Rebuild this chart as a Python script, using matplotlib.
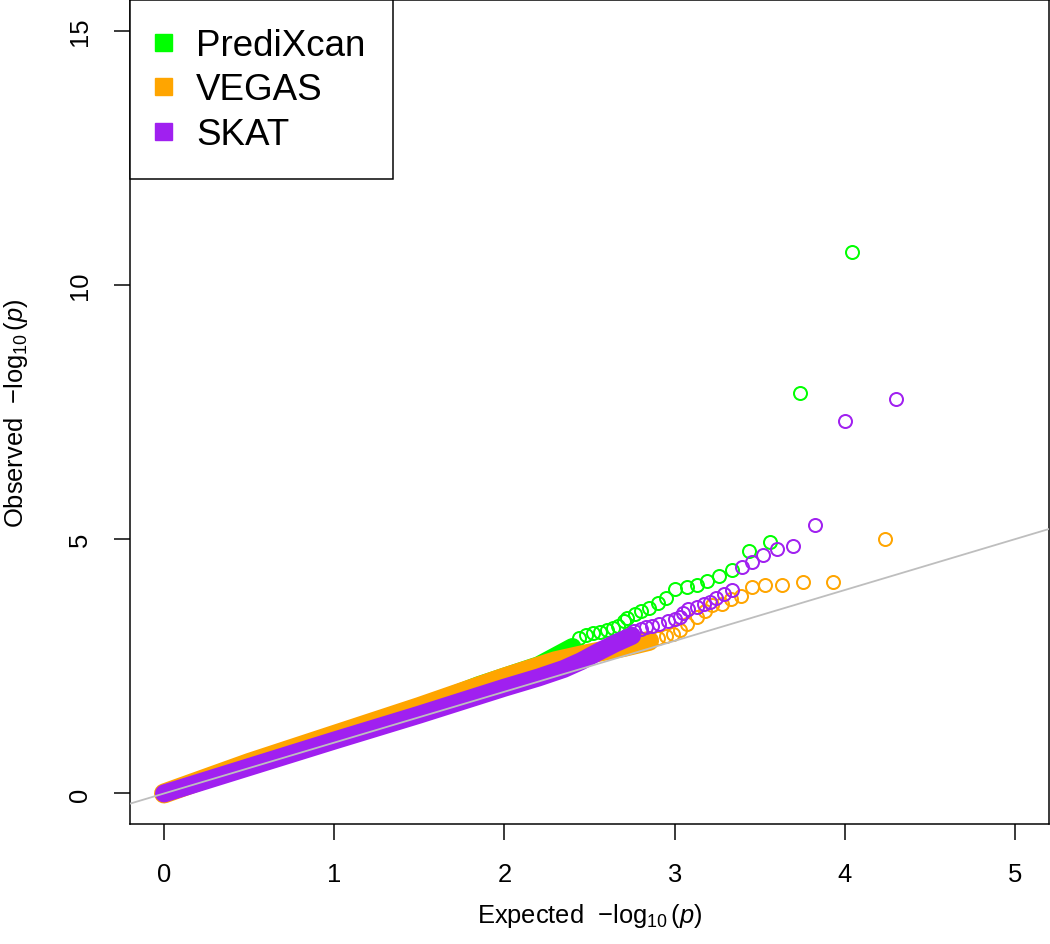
import matplotlib
matplotlib.use("Agg")
import matplotlib.pyplot as plt
from matplotlib.lines import Line2D

plt.rcParams['font.family'] = ['Liberation Sans', 'DejaVu Sans']
plt.rcParams['mathtext.fontset'] = 'custom'
plt.rcParams['mathtext.rm'] = 'Liberation Sans'
plt.rcParams['mathtext.it'] = 'Liberation Sans:italic'

# series names / colours (R: green, orange, purple)
names = ['PrediXcan', 'VEGAS', 'SKAT']
colors = ['#00FF00', '#FFA500', '#A020F0']

# dense part of each QQ curve
pred_body_exp = [0.0, 0.5, 1.0, 1.5, 1.85, 2.2, 2.4]
pred_body_obs = [0.0, 0.56, 1.12, 1.68, 2.13, 2.52, 2.88]
veg_body_exp = [0.0, 0.5, 1.0, 1.5, 2.0, 2.3, 2.5, 2.7, 2.85]
veg_body_obs = [0.0, 0.6, 1.15, 1.7, 2.28, 2.6, 2.75, 2.88, 3.0]
skat_body_exp = [0.0, 0.5, 1.0, 1.5, 2.0, 2.2, 2.35, 2.45, 2.55, 2.65, 2.75]
skat_body_obs = [0.0, 0.52, 1.04, 1.55, 2.08, 2.28, 2.45, 2.6, 2.78, 2.95, 3.1]

# separate points in the upper tail
pred_tail_exp = [2.44, 2.48, 2.52, 2.56, 2.60, 2.64, 2.67, 2.70, 2.72, 2.765, 2.80, 2.85,
                 2.90, 2.95, 3.0, 3.075, 3.13, 3.19, 3.26, 3.337, 3.435, 3.56, 3.737, 4.04]
pred_tail_obs = [3.06, 3.12, 3.15, 3.18, 3.22, 3.25, 3.30, 3.39, 3.45, 3.52, 3.58, 3.65,
                 3.75, 3.85, 4.02, 4.06, 4.10, 4.18, 4.27, 4.39, 4.77, 4.95, 7.87, 10.65]
veg_tail_exp = [2.90, 2.95, 2.99, 3.03, 3.07, 3.13, 3.18, 3.22, 3.28, 3.33, 3.39, 3.455,
                3.53, 3.63, 3.755, 3.93, 4.235]
veg_tail_obs = [3.05, 3.10, 3.14, 3.22, 3.34, 3.47, 3.58, 3.70, 3.73, 3.83, 3.89, 4.05,
                4.10, 4.10, 4.16, 4.16, 5.0]
skat_tail_exp = [2.76, 2.80, 2.83, 2.87, 2.91, 2.96, 3.00, 3.03, 3.05, 3.08, 3.13, 3.17,
                 3.21, 3.245, 3.29, 3.34, 3.396, 3.455, 3.52, 3.60, 3.696, 3.824, 4.0, 4.30]
skat_tail_obs = [3.20, 3.24, 3.27, 3.30, 3.34, 3.40, 3.44, 3.47, 3.55, 3.62, 3.66, 3.72,
                 3.76, 3.85, 3.93, 4.01, 4.45, 4.56, 4.69, 4.80, 4.86, 5.28, 7.33, 7.75]

px = 0.72  # one pixel in points at dpi 100

fig = plt.figure(figsize=(10.5, 9.45), dpi=100)
ax = fig.add_axes([130 / 1050, 120 / 945, 919 / 1050, 824 / 945])

series = [
    (pred_body_exp, pred_body_obs, pred_tail_exp, pred_tail_obs, 18),
    (veg_body_exp, veg_body_obs, veg_tail_exp, veg_tail_obs, 20),
    (skat_body_exp, skat_body_obs, skat_tail_exp, skat_tail_obs, 18),
]
for (bx, by, tx, ty, w), c in zip(series, colors):
    ax.plot(bx, by, color=c, lw=w * px, solid_capstyle='round', solid_joinstyle='round')
    ax.plot(tx, ty, 'o', ms=13 * px, mfc='none', mec=c, mew=2 * px, ls='none')

ax.axline((0, 0), slope=1, color='#BEBEBE', lw=1.8 * px, zorder=5)

ax.set_xlim(-0.2, 5.2)
ax.set_ylim(-0.6, 15.6)
ax.set_xticks([0, 1, 2, 3, 4, 5])
ax.set_yticks([0, 5, 10, 15])
ax.tick_params(direction='out', length=16 * px, width=1.5 * px, labelsize=18.4, pad=16)
for lab in ax.get_yticklabels():
    lab.set_rotation(90)
    lab.set_va('center')
for s in ax.spines.values():
    s.set_linewidth(1.5 * px)

ax.set_xlabel(r'Expected  $-\log_{10}(p)$', fontsize=18.4)
ax.set_ylabel(r'Observed  $-\log_{10}(p)$', fontsize=18.4)
ax.xaxis.label.set_va('center')
ax.yaxis.label.set_va('center')
ax.xaxis.set_label_coords(0.5, -(916 - 825) / 824)
ax.yaxis.set_label_coords(-(130 - 16) / 919, 0.5)

handles = [Line2D([], [], marker='s', ls='none', color=c, ms=17 * px) for c in colors]
leg = ax.legend(handles, names, loc='upper left', fontsize=26.5, frameon=True, fancybox=False,
                edgecolor='black', framealpha=1, borderaxespad=0, handletextpad=0.75,
                labelspacing=0.26, borderpad=0.75, handlelength=0.3)
leg.get_frame().set_linewidth(1.5 * px)

fig.savefig('out.png', dpi=100)
